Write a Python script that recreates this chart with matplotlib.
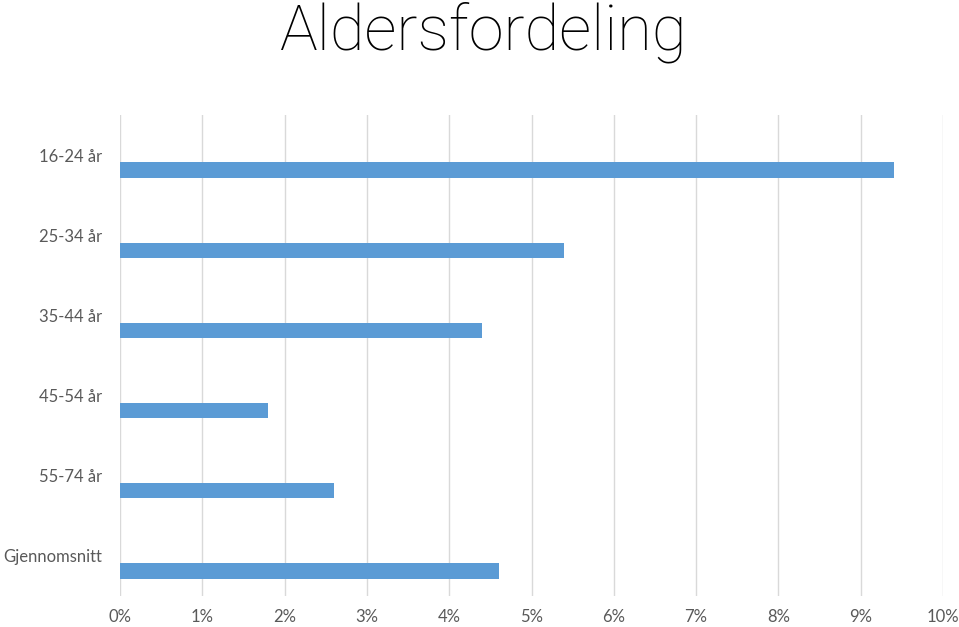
import numpy as np
import matplotlib.pyplot as plt

categories = ['16-24 år', '25-34 år', '35-44 år', '45-54 år', '55-74 år', 'Gjennomsnitt']
values = [9.4, 5.4, 4.4, 1.8, 2.6, 4.6]
xticks = list(range(0, 11))

bar_color = '#5b9bd5'
grid_color = '#d9d9d9'
text_color = '#595959'

plt.rcParams['font.family'] = ['Lato', 'DejaVu Sans']

fig = plt.figure(figsize=(9.59, 6.27), dpi=100)
ax = fig.add_axes([120 / 959, (627 - 596) / 627, (943 - 120) / 959, (596 - 115) / 627])

y = np.arange(len(categories))
ax.barh(y + 0.187, values, height=0.193, color=bar_color, zorder=3)

ax.set_ylim(len(categories) - 0.5, -0.5)
ax.set_xlim(0, 10)
ax.set_yticks(y)
ax.set_yticklabels(categories)
ax.set_xticks(xticks)
ax.set_xticklabels([f'{t}%' for t in xticks])
ax.tick_params(axis='both', length=0, labelsize=12, colors=text_color)
ax.tick_params(axis='y', pad=13)
ax.tick_params(axis='x', pad=9)
ax.grid(axis='x', color=grid_color, linewidth=1.0, zorder=0)
for s in ax.spines.values():
    s.set_visible(False)

fig.text(484 / 959, 1 - 32 / 627, 'Aldersfordeling', ha='center', va='center',
         fontsize=45.5, fontweight='light', family=['Roboto', 'DejaVu Sans'], color='black')

fig.savefig('out.png', dpi=100)
